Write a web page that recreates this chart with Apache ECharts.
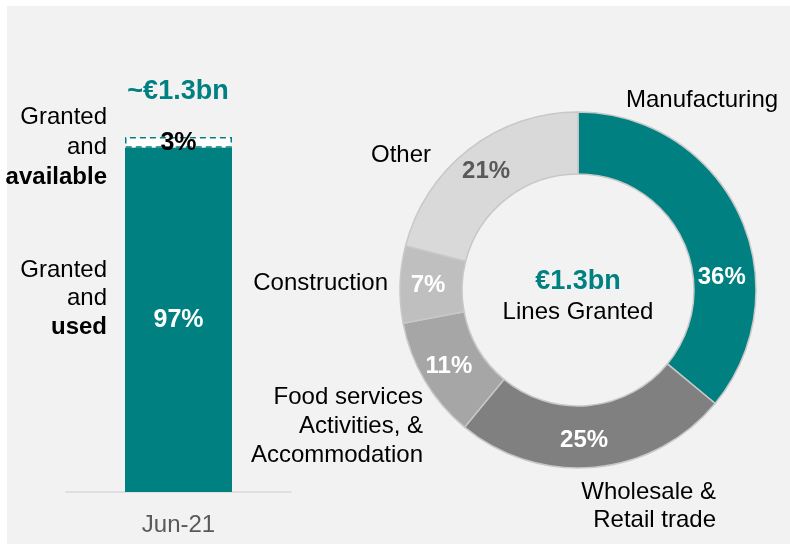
<!DOCTYPE html>
<html>
<head>
<meta charset="utf-8">
<title>Lines granted</title>
<script src="https://cdn.jsdelivr.net/npm/echarts@6/dist/echarts.min.js"></script>
<style>
  html, body { margin: 0; padding: 0; background: #ffffff; }
  #main { width: 790px; height: 545px; }
</style>
</head>
<body>
<div id="main"></div>
<script>
  // 数据
  const categories = ['Jun-21'];
  const usedShare = [97];
  const availableShare = [3];
  const sectorNames = ['Manufacturing', 'Wholesale &\nRetail trade', 'Food services\nActivities, &\nAccommodation', 'Construction', 'Other'];
  const sectorShare = [36, 25, 11, 7, 21];
  const sectorColors = ['#008080', '#808080', '#a6a6a6', '#bfbfbf', '#d9d9d9'];
  const sectorLabelColors = ['#ffffff', '#ffffff', '#ffffff', '#ffffff', '#595959'];
  const totalText = '~€1.3bn';
  const centerText = '€1.3bn';

  const font = '"Liberation Sans", Arial, sans-serif';
  const teal = '#008080';

  let myChart = echarts.init(document.getElementById('main'));

  // 外部标签（位置手动摆放）
  function txt(text, x, y, align, opts) {
    return {
      type: 'text',
      x: x, y: y,
      style: Object.assign({
        text: text,
        fill: '#000000',
        font: '24px ' + font,
        align: align || 'center',
        verticalAlign: 'middle',
        lineHeight: 29
      }, opts || {})
    };
  }

  let option = {
    backgroundColor: '#ffffff',
    animation: false,
    graphic: [
      { type: 'rect', z: -10, shape: { x: 7, y: 6, width: 783, height: 538 }, style: { fill: '#f2f2f2' } },
      txt('Granted', 107, 117, 'right'),
      txt('and', 107, 147, 'right'),
      txt('available', 107, 177, 'right', { font: 'bold 24px ' + font }),
      txt('Granted', 107, 270, 'right'),
      txt('and', 107, 298, 'right'),
      txt('used', 107, 327, 'right', { font: 'bold 24px ' + font }),
      txt(totalText, 178, 92, 'center', { font: 'bold 27px ' + font, fill: teal }),
      txt(centerText, 578, 282, 'center', { font: 'bold 27px ' + font, fill: teal }),
      txt('Lines Granted', 578, 312, 'center'),
      txt(sectorNames[0], 626, 100, 'left'),
      txt(sectorNames[1], 716, 506, 'right', { lineHeight: 28 }),
      txt(sectorNames[2], 423, 426, 'right'),
      txt(sectorNames[3], 388, 283, 'right'),
      txt(sectorNames[4], 401, 155, 'center')
    ],
    grid: { left: 66, width: 225, top: 137, bottom: 53 },
    xAxis: {
      type: 'category',
      data: categories,
      axisLine: { lineStyle: { color: '#d9d9d9', width: 1.5 } },
      axisTick: { show: false },
      axisLabel: { color: '#595959', fontSize: 24, fontFamily: font, margin: 21 }
    },
    yAxis: {
      type: 'value',
      min: 0,
      max: 100,
      show: false
    },
    series: [
      {
        name: 'used',
        type: 'bar',
        stack: 'total',
        barWidth: 107,
        data: usedShare,
        itemStyle: { color: teal },
        label: {
          show: true,
          position: 'inside',
          formatter: '{c}%',
          color: '#ffffff',
          fontWeight: 'bold',
          fontSize: 25,
          fontFamily: font
        }
      },
      {
        name: 'available',
        type: 'bar',
        stack: 'total',
        barWidth: 107,
        data: availableShare,
        itemStyle: { color: '#ffffff', borderColor: teal, borderWidth: 1.5, borderType: [6, 4] },
        label: {
          show: true,
          position: 'inside',
          formatter: '{c}%',
          color: '#000000',
          fontWeight: 'bold',
          fontSize: 25,
          fontFamily: font,
          offset: [0, 1]
        }
      },
      {
        name: 'sector',
        type: 'pie',
        center: [578, 290],
        radius: [116, 178],
        startAngle: 90,
        clockwise: true,
        silent: true,
        data: sectorShare.map(function (v, i) {
          let item = {
            value: v,
            name: sectorNames[i],
            itemStyle: { color: sectorColors[i] },
            label: { color: sectorLabelColors[i] }
          };
          if (i === 0) item.label.offset = [8, 51];
          if (i === 1) item.label.offset = [-8, 1];
          return item;
        }),
        itemStyle: { borderColor: '#c8c8c8', borderWidth: 1.5 },
        label: {
          show: true,
          position: 'inside',
          formatter: '{c}%',
          fontWeight: 'bold',
          fontSize: 24,
          fontFamily: font
        },
        labelLine: { show: false }
      }
    ]
  };

  myChart.setOption(option);

  window.addEventListener('resize', function () {
    myChart.resize();
  });
</script>
</body>
</html>
